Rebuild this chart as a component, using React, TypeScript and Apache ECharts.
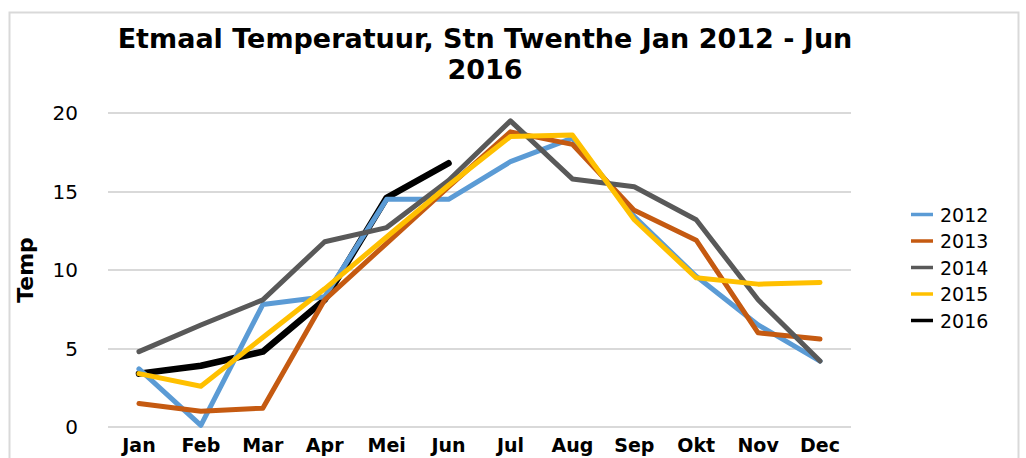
import React, { useEffect, useRef } from "react";
import * as echarts from "echarts";

const months = ["Jan", "Feb", "Mar", "Apr", "Mei", "Jun", "Jul", "Aug", "Sep", "Okt", "Nov", "Dec"];
const years = ["2012", "2013", "2014", "2015", "2016"];
const t2012 = [3.7, 0.1, 7.8, 8.3, 14.5, 14.5, 16.9, 18.4, 13.4, 9.6, 6.5, 4.2];
const t2013 = [1.5, 1.0, 1.2, 8.1, 11.7, 15.3, 18.8, 18.0, 13.8, 11.9, 6.0, 5.6];
const t2014 = [4.8, 6.5, 8.1, 11.8, 12.7, 15.7, 19.5, 15.8, 15.3, 13.2, 8.1, 4.2];
const t2015 = [3.4, 2.6, 5.7, 8.8, 12.1, 15.4, 18.5, 18.6, 13.2, 9.5, 9.1, 9.2];
const t2016 = [3.4, 3.9, 4.8, 8.1, 14.6, 16.8];
const colors = ["#5B9BD5", "#C55A11", "#595959", "#FFC000", "#000000"];
const yTicks = [0, 5, 10, 15, 20];

const FONT = "DejaVu Sans";

export default function App() {
  const ref = useRef<HTMLDivElement>(null);
  useEffect(() => {
    document.body.style.margin = "0";
    const chart = echarts.init(ref.current!, null, { renderer: "svg" });
    const data = [t2012, t2013, t2014, t2015, t2016];
    chart.setOption({
      animation: false,
      color: colors,
      graphic: [
        {
          type: "rect",
          shape: { x: 9.5, y: 12.5, width: 1009, height: 500 },
          style: { fill: "none", stroke: "#d9d9d9", lineWidth: 2 },
          silent: true,
        },
      ],
      title: {
        text: "Etmaal Temperatuur, Stn Twenthe Jan 2012 - Jun\n2016",
        left: 480,
        top: 18,
        textAlign: "center",
        textStyle: {
          fontFamily: FONT,
          fontWeight: "bold",
          fontSize: 27,
          lineHeight: 31,
          color: "#000",
        },
      },
      legend: {
        orient: "vertical",
        left: 906,
        top: 200,
        itemWidth: 22,
        itemHeight: 14,
        itemGap: 7.5,
        data: years,
        icon: "path://M0,0 L22,0 L22,3.5 L0,3.5 Z",
        textStyle: { fontFamily: FONT, fontSize: 19, color: "#000", padding: [0, 0, 0, 2] },
      },
      grid: { left: 108, right: 175, top: 113, bottom: 31 },
      xAxis: {
        type: "category",
        data: months,
        boundaryGap: true,
        axisLine: { show: false },
        axisTick: { show: false },
        axisLabel: {
          fontFamily: FONT,
          fontWeight: "bold",
          fontSize: 19,
          color: "#000",
          margin: 8,
        },
      },
      yAxis: {
        type: "value",
        min: yTicks[0],
        max: yTicks[yTicks.length - 1],
        interval: 5,
        name: "Temp",
        nameLocation: "middle",
        nameGap: 72,
        nameTextStyle: { fontFamily: FONT, fontWeight: "bold", fontSize: 22, color: "#000" },
        axisLine: { show: false },
        axisTick: { show: false },
        axisLabel: { fontFamily: FONT, fontSize: 20, color: "#000", margin: 30 },
        splitLine: { lineStyle: { color: "#d9d9d9", width: 2 } },
      },
      series: years.map((y, i) => ({
        name: y,
        type: "line",
        data: data[i],
        symbol: "none",
        lineStyle: { width: i === 4 ? 6.5 : 5, cap: "round", join: "round", color: colors[i] },
        itemStyle: { color: colors[i] },
        z: i === 4 ? 1 : 2 + i,
      })),
    });
    return () => chart.dispose();
  }, []);
  return <div ref={ref} style={{ width: 1026, height: 458 }} />;
}
